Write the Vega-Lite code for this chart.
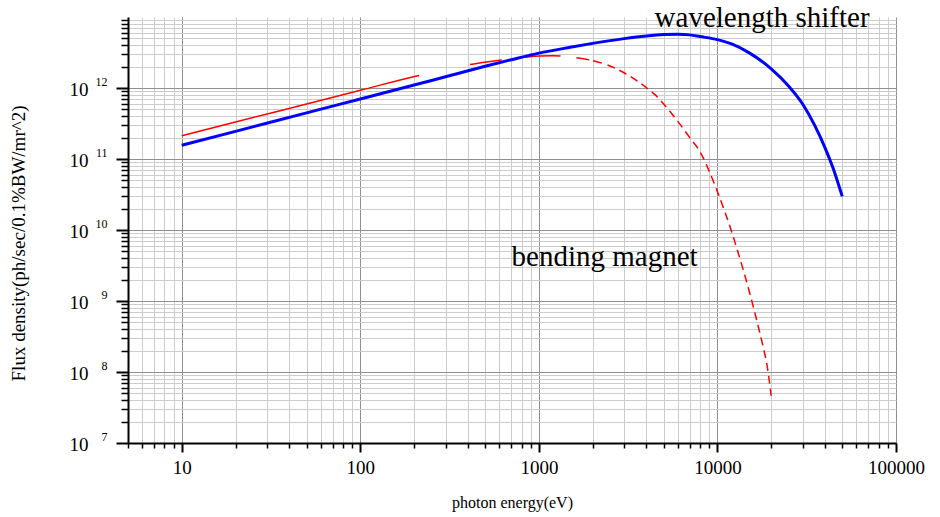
{
  "$schema": "https://vega.github.io/schema/vega-lite/v6.json",
  "width": 768,
  "height": 426,
  "autosize": {"type": "none"},
  "padding": {"left": 128, "top": 17, "right": 44, "bottom": 74},
  "background": "white",
  "config": {
    "view": {"stroke": null},
    "font": "Liberation Serif",
    "axis": {
      "labelFont": "Liberation Serif",
      "titleFont": "Liberation Serif",
      "titleFontWeight": "normal",
      "labelColor": "black",
      "titleColor": "black",
      "tickColor": "black",
      "domainColor": "black",
      "labelOverlap": false,
      "labelFlush": false
    }
  },
  "datasets": {
    "curves": [
      {"source": "wavelength shifter", "energy": 10, "flux": 1.56e11},
      {"source": "wavelength shifter", "energy": 20, "flux": 2.45e11},
      {"source": "wavelength shifter", "energy": 50, "flux": 4.47e11},
      {"source": "wavelength shifter", "energy": 100, "flux": 7.0e11},
      {"source": "wavelength shifter", "energy": 200, "flux": 1.10e12},
      {"source": "wavelength shifter", "energy": 300, "flux": 1.44e12},
      {"source": "wavelength shifter", "energy": 500, "flux": 2.02e12},
      {"source": "wavelength shifter", "energy": 700, "flux": 2.5e12},
      {"source": "wavelength shifter", "energy": 1000, "flux": 3.1e12},
      {"source": "wavelength shifter", "energy": 1500, "flux": 3.75e12},
      {"source": "wavelength shifter", "energy": 2000, "flux": 4.25e12},
      {"source": "wavelength shifter", "energy": 3000, "flux": 4.96e12},
      {"source": "wavelength shifter", "energy": 4000, "flux": 5.4e12},
      {"source": "wavelength shifter", "energy": 5000, "flux": 5.65e12},
      {"source": "wavelength shifter", "energy": 6000, "flux": 5.72e12},
      {"source": "wavelength shifter", "energy": 7000, "flux": 5.6e12},
      {"source": "wavelength shifter", "energy": 8000, "flux": 5.3e12},
      {"source": "wavelength shifter", "energy": 10000, "flux": 4.8e12},
      {"source": "wavelength shifter", "energy": 12000, "flux": 4.17e12},
      {"source": "wavelength shifter", "energy": 15000, "flux": 3.15e12},
      {"source": "wavelength shifter", "energy": 20000, "flux": 1.86e12},
      {"source": "wavelength shifter", "energy": 25000, "flux": 1.07e12},
      {"source": "wavelength shifter", "energy": 30000, "flux": 5.96e11},
      {"source": "wavelength shifter", "energy": 35000, "flux": 3.0e11},
      {"source": "wavelength shifter", "energy": 40000, "flux": 1.45e11},
      {"source": "wavelength shifter", "energy": 45000, "flux": 6.8e10},
      {"source": "wavelength shifter", "energy": 50000, "flux": 2.97e10},
      {"source": "bending magnet", "energy": 10, "flux": 2.13e11},
      {"source": "bending magnet", "energy": 20, "flux": 3.32e11},
      {"source": "bending magnet", "energy": 50, "flux": 5.96e11},
      {"source": "bending magnet", "energy": 100, "flux": 9.28e11},
      {"source": "bending magnet", "energy": 213, "flux": 1.50e12},
      {"source": "bending magnet", "energy": 300, "flux": 1.80e12},
      {"source": "bending magnet", "energy": 409, "flux": 2.13e12},
      {"source": "bending magnet", "energy": 615, "flux": 2.48e12},
      {"source": "bending magnet", "energy": 865, "flux": 2.74e12},
      {"source": "bending magnet", "energy": 1000, "flux": 2.82e12},
      {"source": "bending magnet", "energy": 1200, "flux": 2.85e12},
      {"source": "bending magnet", "energy": 1500, "flux": 2.72e12},
      {"source": "bending magnet", "energy": 2000, "flux": 2.43e12},
      {"source": "bending magnet", "energy": 2500, "flux": 2.04e12},
      {"source": "bending magnet", "energy": 3000, "flux": 1.64e12},
      {"source": "bending magnet", "energy": 3500, "flux": 1.29e12},
      {"source": "bending magnet", "energy": 4000, "flux": 1.01e12},
      {"source": "bending magnet", "energy": 4500, "flux": 7.94e11},
      {"source": "bending magnet", "energy": 5000, "flux": 5.96e11},
      {"source": "bending magnet", "energy": 6000, "flux": 3.39e11},
      {"source": "bending magnet", "energy": 7000, "flux": 2.0e11},
      {"source": "bending magnet", "energy": 8000, "flux": 1.26e11},
      {"source": "bending magnet", "energy": 9000, "flux": 6.7e10},
      {"source": "bending magnet", "energy": 10000, "flux": 3.47e10},
      {"source": "bending magnet", "energy": 11000, "flux": 1.81e10},
      {"source": "bending magnet", "energy": 12000, "flux": 9.5e9},
      {"source": "bending magnet", "energy": 13000, "flux": 4.99e9},
      {"source": "bending magnet", "energy": 14000, "flux": 2.65e9},
      {"source": "bending magnet", "energy": 15000, "flux": 1.43e9},
      {"source": "bending magnet", "energy": 16000, "flux": 7.7e8},
      {"source": "bending magnet", "energy": 17000, "flux": 4.2e8},
      {"source": "bending magnet", "energy": 18000, "flux": 2.3e8},
      {"source": "bending magnet", "energy": 19000, "flux": 1.2e8},
      {"source": "bending magnet", "energy": 20000, "flux": 4.6e7}
    ],
    "notes": [
      {"label": "wavelength shifter", "energy": 4446, "flux": 7.3e12},
      {"label": "bending magnet", "energy": 703, "flux": 3.07e9}
    ]
  },
  "layer": [
    {
      "data": {"name": "curves"},
      "transform": [{"filter": "datum.source === 'bending magnet'"}],
      "mark": {
        "type": "line",
        "color": "#ff0000",
        "strokeWidth": 1.5,
        "interpolate": "monotone",
        "strokeDash": [245, 52, 32, 23, 36, 16, 13, 4, 9, 6,
          8, 5, 8, 5, 8, 5, 8, 5, 8, 5, 8, 5, 8, 5, 8, 5, 8, 5, 8, 5,
          8, 5, 8, 5, 8, 5, 8, 5, 8, 5, 8, 5, 8, 5, 8, 5, 8, 5, 8, 5,
          8, 5, 8, 5, 8, 5, 8, 5, 8, 5, 8, 5, 8, 5, 8, 5, 8, 5, 8, 5,
          8, 5, 8, 5, 8, 5, 8, 5, 8, 5, 8, 5, 8, 5, 8, 5, 8, 5, 8, 5,
          8, 5, 8, 5, 8, 5, 8, 5, 8, 5, 8, 5, 8, 5, 8, 5, 8, 5, 8, 5,
          8, 5, 8, 5, 8, 5, 8, 5, 8, 5, 8, 5, 8, 5, 8, 5, 8, 5, 8, 5]
      },
      "encoding": {
        "x": {
          "field": "energy",
          "type": "quantitative",
          "scale": {"type": "log", "domain": [5, 100000], "nice": false},
          "axis": {
            "orient": "bottom",
            "values": [5, 6, 7, 8, 9, 20, 30, 40, 50, 60, 70, 80, 90,
              200, 300, 400, 500, 600, 700, 800, 900,
              2000, 3000, 4000, 5000, 6000, 7000, 8000, 9000,
              20000, 30000, 40000, 50000, 60000, 70000, 80000, 90000],
            "labels": false,
            "title": null,
            "domain": false,
            "grid": true,
            "gridColor": "#cccccc",
            "gridWidth": 1,
            "ticks": true,
            "tickSize": 5,
            "tickWidth": 1.5
          }
        },
        "y": {
          "field": "flux",
          "type": "quantitative",
          "scale": {"type": "log", "domain": [1e7, 1e13], "nice": false},
          "axis": {
            "orient": "left",
            "values": [2e7, 3e7, 4e7, 5e7, 6e7, 7e7, 8e7, 9e7,
              2e8, 3e8, 4e8, 5e8, 6e8, 7e8, 8e8, 9e8,
              2e9, 3e9, 4e9, 5e9, 6e9, 7e9, 8e9, 9e9,
              2e10, 3e10, 4e10, 5e10, 6e10, 7e10, 8e10, 9e10,
              2e11, 3e11, 4e11, 5e11, 6e11, 7e11, 8e11, 9e11,
              2e12, 3e12, 4e12, 5e12, 6e12, 7e12, 8e12, 9e12],
            "labels": false,
            "title": null,
            "domain": false,
            "grid": true,
            "gridColor": "#cccccc",
            "gridWidth": 1,
            "ticks": true,
            "tickSize": 7,
            "tickWidth": 1.5
          }
        }
      }
    },
    {
      "data": {"name": "curves"},
      "transform": [{"filter": "datum.source === 'wavelength shifter'"}],
      "mark": {"type": "line", "color": "#0000ff", "strokeWidth": 3, "interpolate": "monotone"},
      "encoding": {
        "x": {
          "field": "energy",
          "type": "quantitative",
          "scale": {"type": "log", "domain": [5, 100000], "nice": false},
          "axis": {
            "orient": "bottom",
            "values": [10, 100, 1000, 10000, 100000],
            "format": "d",
            "labelFontSize": 19,
            "labelPadding": 6,
            "title": "photon energy(eV)",
            "titleFontSize": 16,
            "titleBaseline": "alphabetic",
            "titleY": 64,
            "domain": true,
            "domainWidth": 2,
            "grid": true,
            "gridColor": "#909090",
            "gridWidth": 1,
            "ticks": true,
            "tickSize": 9,
            "tickWidth": 2
          }
        },
        "y": {
          "field": "flux",
          "type": "quantitative",
          "scale": {"type": "log", "domain": [1e7, 1e13], "nice": false},
          "axis": {
            "orient": "left",
            "values": [1e7, 1e8, 1e9, 1e10, 1e11, 1e12],
            "labelExpr": "'10'",
            "labelFontSize": 19,
            "labelPadding": 28,
            "labelOffset": 1,
            "title": "Flux density(ph/sec/0.1%BW/mr^2)",
            "titleFontSize": 19,
            "titleX": -100,
            "titleY": 226,
            "titleBaseline": "bottom",
            "domain": true,
            "domainWidth": 2,
            "grid": true,
            "gridColor": "#909090",
            "gridWidth": 1,
            "ticks": true,
            "tickSize": 12,
            "tickWidth": 2
          }
        }
      }
    },
    {
      "data": {"name": "notes"},
      "mark": {"type": "text", "font": "Liberation Serif", "fontSize": 29, "align": "left", "baseline": "alphabetic", "color": "black"},
      "encoding": {
        "x": {
          "field": "energy",
          "type": "quantitative",
          "scale": {"type": "log", "domain": [5, 100000], "nice": false},
          "axis": null
        },
        "y": {
          "field": "flux",
          "type": "quantitative",
          "scale": {"type": "log", "domain": [1e7, 1e13], "nice": false},
          "axis": {
            "orient": "left",
            "values": [1e7, 1e8, 1e9, 1e10, 1e11, 1e12],
            "labelExpr": "'' + round(log(datum.value) / LN10)",
            "labelFontSize": 12,
            "labelPadding": 21,
            "labelOffset": -7,
            "title": null,
            "domain": false,
            "grid": false,
            "ticks": false,
            "tickSize": 0
          }
        },
        "text": {"field": "label", "type": "nominal"}
      }
    }
  ],
  "resolve": {"axis": {"x": "independent", "y": "independent"}}
}
